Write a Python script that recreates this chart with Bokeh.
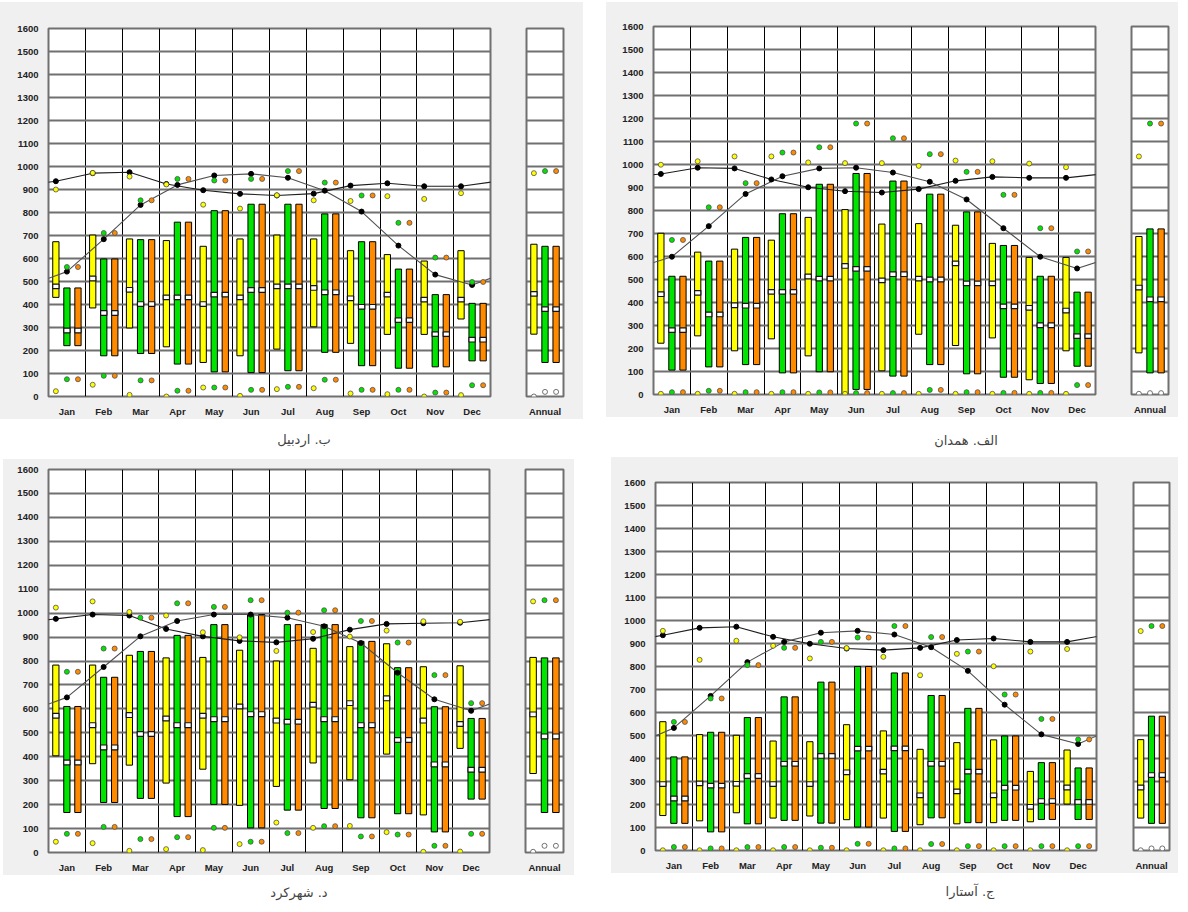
from bokeh.plotting import figure
from bokeh.models import Range1d, FixedTicker, Spacer, Div, ColumnDataSource
from bokeh.layouts import row, column
from bokeh.embed import file_html
from bokeh.resources import INLINE

MONTHS = ["Jan", "Feb", "Mar", "Apr", "May", "Jun", "Jul", "Aug", "Sep", "Oct", "Nov", "Dec"]
Y_TICKS = list(range(0, 1700, 100))

# ---------------- Ardabil ----------------
ARD_TITLE = "ب. اردبیل"
ARD_Y_LO = [431, 385, 298, 216, 148, 177, 206, 303, 231, 270, 270, 337]
ARD_Y_HI = [673, 702, 685, 678, 653, 685, 702, 685, 634, 617, 589, 634]
ARD_Y_MED = [479, 513, 464, 431, 402, 431, 479, 472, 427, 443, 421, 421]
ARD_Y_MIN = [23, 51, 7, 0, 39, 3, 32, 36, 13, 10, 0, 6]
ARD_Y_MAX = [900, 972, 956, 922, 834, 817, 875, 853, 850, 871, 859, 884]
ARD_G_LO = [221, 177, 187, 141, 107, 104, 112, 192, 134, 123, 129, 155]
ARD_G_HI = [472, 598, 682, 758, 808, 836, 836, 794, 673, 554, 443, 405]
ARD_G_MED = [287, 363, 402, 431, 443, 463, 479, 453, 390, 332, 271, 247]
ARD_G_MIN = [75, 90, 70, 25, 39, 29, 42, 73, 29, 29, 17, 49]
ARD_G_MAX = [563, 711, 853, 946, 939, 946, 980, 930, 874, 755, 604, 498]
ARD_O_LO = [221, 177, 187, 141, 107, 104, 112, 192, 134, 123, 129, 155]
ARD_O_HI = [472, 598, 682, 758, 808, 836, 836, 794, 673, 554, 443, 405]
ARD_O_MED = [287, 363, 402, 431, 443, 463, 479, 453, 390, 332, 271, 247]
ARD_O_MIN = [75, 90, 70, 25, 39, 29, 42, 73, 29, 29, 17, 49]
ARD_O_MAX = [563, 711, 853, 946, 939, 946, 980, 930, 874, 755, 604, 498]
ARD_LINE_A = [936, 971, 975, 924, 897, 881, 874, 882, 917, 927, 914, 914]
ARD_LINE_B = [543, 684, 833, 920, 961, 968, 951, 895, 804, 656, 530, 485]
# annual: low, high, median, min, max
ARD_ANN_Y = [271, 662, 446, 0, 971]
ARD_ANN_G = [148, 653, 380, 20, 980]
ARD_ANN_O = [148, 653, 380, 20, 980]

# ---------------- Hamedan ----------------
HAM_TITLE = "الف. همدان"
HAM_Y_LO = [223, 255, 190, 242, 168, 3, 103, 262, 213, 246, 64, 190]
HAM_Y_HI = [701, 619, 632, 671, 770, 804, 741, 743, 736, 657, 596, 596]
HAM_Y_MED = [436, 442, 388, 446, 513, 559, 496, 504, 570, 483, 377, 365]
HAM_Y_MIN = [3, 3, 3, 3, 3, 3, 3, 3, 3, 3, 3, 3]
HAM_Y_MAX = [999, 1014, 1035, 1035, 1009, 1006, 1006, 994, 1017, 1014, 1004, 988]
HAM_G_LO = [106, 120, 130, 94, 99, 22, 80, 130, 90, 75, 48, 123]
HAM_G_HI = [514, 580, 683, 786, 914, 961, 928, 871, 794, 648, 514, 445]
HAM_G_MED = [280, 348, 386, 446, 504, 546, 523, 500, 483, 383, 301, 254]
HAM_G_MIN = [10, 16, 10, 10, 9, 6, 6, 20, 10, 7, 7, 41]
HAM_G_MAX = [672, 814, 919, 1052, 1075, 1178, 1114, 1045, 968, 868, 723, 622]
HAM_O_LO = [106, 120, 130, 94, 99, 22, 80, 130, 90, 75, 48, 123]
HAM_O_HI = [514, 580, 683, 786, 914, 961, 928, 871, 794, 648, 514, 445]
HAM_O_MED = [280, 348, 386, 446, 504, 546, 523, 500, 483, 383, 301, 254]
HAM_O_MIN = [10, 16, 10, 10, 9, 6, 6, 20, 10, 7, 7, 41]
HAM_O_MAX = [672, 814, 919, 1052, 1075, 1178, 1114, 1045, 968, 868, 723, 622]
HAM_LINE_A = [959, 986, 983, 935, 901, 884, 878, 893, 929, 946, 942, 942]
HAM_LINE_B = [599, 732, 872, 949, 983, 986, 965, 925, 848, 723, 599, 548]
HAM_ANN_Y = [181, 687, 465, 3, 1035]
HAM_ANN_G = [94, 720, 414, 6, 1178]
HAM_ANN_O = [94, 720, 414, 6, 1178]

# ---------------- Shahrekord ----------------
SHK_TITLE = "د. شهرکرد"
SHK_Y_LO = [404, 371, 365, 290, 348, 197, 276, 374, 304, 411, 157, 435]
SHK_Y_HI = [783, 783, 824, 813, 815, 845, 800, 853, 860, 872, 776, 780]
SHK_Y_MED = [571, 532, 574, 560, 571, 610, 551, 617, 624, 644, 551, 537]
SHK_Y_MIN = [45, 39, 7, 14, 10, 35, 125, 103, 111, 85, 3, 4]
SHK_Y_MAX = [1023, 1049, 1005, 990, 920, 899, 842, 921, 902, 927, 966, 964]
SHK_G_LO = [167, 209, 226, 150, 201, 103, 177, 184, 145, 162, 86, 223]
SHK_G_HI = [610, 732, 840, 907, 952, 994, 952, 952, 882, 772, 609, 560]
SHK_G_MED = [376, 439, 495, 532, 557, 578, 546, 557, 532, 470, 368, 346]
SHK_G_MIN = [78, 107, 56, 64, 103, 45, 81, 110, 67, 75, 28, 78]
SHK_G_MAX = [755, 852, 981, 1041, 1026, 1054, 1002, 1012, 967, 877, 741, 624]
SHK_O_LO = [167, 209, 226, 150, 201, 103, 177, 184, 145, 162, 86, 223]
SHK_O_HI = [610, 732, 840, 907, 952, 994, 952, 952, 882, 772, 609, 560]
SHK_O_MED = [376, 439, 495, 532, 557, 578, 546, 557, 532, 470, 368, 346]
SHK_O_MIN = [78, 107, 56, 64, 103, 45, 81, 110, 67, 75, 28, 78]
SHK_O_MAX = [755, 852, 981, 1041, 1026, 1054, 1002, 1012, 967, 877, 741, 624]
SHK_LINE_A = [976, 994, 990, 934, 903, 884, 878, 893, 931, 955, 958, 960]
SHK_LINE_B = [648, 775, 903, 967, 994, 994, 981, 945, 875, 751, 640, 592]
SHK_ANN_Y = [330, 815, 577, 3, 1049]
SHK_ANN_G = [167, 813, 485, 28, 1054]
SHK_ANN_O = [167, 813, 485, 28, 1054]

# ---------------- Astara ----------------
AST_TITLE = "ج. آستارا"
AST_Y_LO = [152, 129, 164, 141, 150, 134, 141, 112, 116, 121, 125, 202]
AST_Y_HI = [560, 504, 501, 476, 473, 547, 520, 440, 469, 481, 344, 437]
AST_Y_MED = [289, 292, 290, 289, 289, 340, 343, 240, 257, 240, 190, 274]
AST_Y_MIN = [1, 1, 1, 1, 1, 1, 1, 1, 1, 1, 1, 1]
AST_Y_MAX = [955, 829, 912, 890, 835, 880, 842, 762, 855, 801, 865, 876]
AST_G_LO = [118, 81, 116, 131, 119, 102, 83, 142, 121, 131, 135, 135]
AST_G_HI = [407, 514, 578, 668, 732, 800, 772, 674, 618, 498, 382, 359]
AST_G_MED = [226, 282, 324, 377, 411, 443, 444, 377, 343, 273, 215, 211]
AST_G_MIN = [15, 9, 15, 15, 12, 29, 9, 28, 19, 19, 19, 19]
AST_G_MAX = [559, 661, 806, 881, 907, 926, 976, 928, 865, 678, 572, 483]
AST_O_LO = [118, 81, 116, 131, 119, 102, 83, 142, 121, 131, 135, 135]
AST_O_HI = [407, 514, 578, 668, 732, 800, 772, 674, 618, 498, 382, 359]
AST_O_MED = [226, 282, 324, 377, 411, 443, 444, 377, 343, 273, 215, 211]
AST_O_MIN = [15, 9, 15, 15, 12, 29, 9, 28, 19, 19, 19, 19]
AST_O_MAX = [559, 661, 806, 881, 907, 926, 976, 928, 865, 678, 572, 483]
AST_LINE_A = [936, 968, 973, 929, 899, 878, 871, 881, 915, 922, 907, 907]
AST_LINE_B = [533, 672, 819, 907, 947, 955, 939, 884, 781, 634, 505, 463]
AST_ANN_Y = [141, 482, 274, 1, 954]
AST_ANN_G = [118, 584, 328, 9, 976]
AST_ANN_O = [118, 584, 328, 9, 976]

# ---------------- styling ----------------
BG = "#F0F0F0"
YELLOW = "#FFFF00"
GREEN = "#00E400"
ORANGE = "#FF8A00"
HGRID = "#707070"
BAR_W = 0.17
OFFSETS = [-0.3, 0.0, 0.3]
FONT = "Liberation Sans"


def style_axes(p, with_y):
    p.title.visible = False
    p.outline_line_color = HGRID
    p.outline_line_width = 2
    ax = p.xaxis[0]
    ax.axis_line_color = None
    ax.major_tick_line_color = None
    ax.minor_tick_line_color = None
    ax.major_label_standoff = 3
    ax.major_label_text_font = FONT
    ax.major_label_text_font_style = "bold"
    ax.major_label_text_font_size = "9.5px"
    ax.major_label_text_color = "#222222"
    ay = p.yaxis[0]
    if with_y:
        ay.ticker = FixedTicker(ticks=Y_TICKS)
        ay.axis_line_color = None
        ay.major_tick_line_color = None
        ay.minor_tick_line_color = None
        ay.major_label_standoff = 4
        ay.major_label_text_font = FONT
        ay.major_label_text_font_style = "bold"
        ay.major_label_text_font_size = "9.5px"
        ay.major_label_text_color = "#222222"
    else:
        ay.visible = False
    p.ygrid.ticker = FixedTicker(ticks=Y_TICKS)
    p.ygrid.grid_line_color = HGRID
    p.ygrid.grid_line_width = 2


def draw_series(p, centers, series):
    # series: list of (lo, hi, med, mn, mx, color)
    srcs = []
    for k, (lo, hi, med, mn, mx, color) in enumerate(series):
        xs = [c + OFFSETS[k] for c in centers]
        src = ColumnDataSource(dict(x=xs, lo=lo, hi=hi, med=med, mn=mn, mx=mx))
        p.vbar(x="x", bottom="lo", top="hi", width=BAR_W, fill_color=color,
               line_color="black", line_width=1, source=src)
        p.rect(x="x", y="med", width=BAR_W, height=20, fill_color="white",
               line_color="#111111", line_width=1.2, source=src)
        srcs.append((src, color))
    return srcs


def draw_dots(p, srcs, min_white=False):
    for src, color in srcs:
        p.scatter(x="x", y="mx", size=5, fill_color=color, line_color="#505050",
                  line_width=0.8, source=src)
        p.scatter(x="x", y="mn", size=5,
                  fill_color="white" if min_white else color,
                  line_color="#505050", line_width=0.8, source=src)


def new_fig(xr, bl, br, bt, bb, fw, fh):
    return figure(x_range=xr, y_range=Range1d(0, 1600),
                  frame_width=fw, frame_height=fh,
                  min_border_left=bl, min_border_right=br,
                  min_border_top=bt, min_border_bottom=bb,
                  output_backend="svg", toolbar_location=None,
                  background_fill_color="white", border_fill_color=BG)


def make_main(st, bl, br, bt, bb, fw, fh):
    p = new_fig(Range1d(-0.5, 11.5), bl, br, bt, bb, fw, fh)
    style_axes(p, True)
    p.xaxis[0].ticker = FixedTicker(ticks=list(range(len(MONTHS))))
    p.xaxis[0].major_label_overrides = {i: m for i, m in enumerate(MONTHS)}
    p.xgrid.ticker = FixedTicker(ticks=[i - 0.5 for i in range(len(MONTHS) + 1)])
    p.xgrid.grid_line_color = "black"
    p.xgrid.grid_line_width = 1
    centers = list(range(len(MONTHS)))
    srcs = draw_series(p, centers, [
        (st["y_lo"], st["y_hi"], st["y_med"], st["y_min"], st["y_max"], YELLOW),
        (st["g_lo"], st["g_hi"], st["g_med"], st["g_min"], st["g_max"], GREEN),
        (st["o_lo"], st["o_hi"], st["o_med"], st["o_min"], st["o_max"], ORANGE),
    ])
    n = len(MONTHS)
    la, lb = st["line_a"], st["line_b"]
    xa = [c + OFFSETS[0] for c in centers]
    xb = [c + OFFSETS[1] for c in centers]
    # wrap around (cyclic year) so the curves reach the frame edges
    p.line([xa[-1] - n] + xa + [xa[0] + n], [la[-1]] + la + [la[0]],
           line_color="#1e1e1e", line_width=1.1)
    p.line([xb[-1] - n] + xb + [xb[0] + n], [lb[-1]] + lb + [lb[0]],
           line_color="#505050", line_width=1.1)
    p.scatter(xa, la, size=5, fill_color="black", line_color="black")
    p.scatter(xb, lb, size=5, fill_color="black", line_color="black")
    draw_dots(p, srcs)
    return p


def make_annual(st, bl, br, bt, bb, fw, fh):
    p = new_fig(Range1d(-0.5, 0.5), bl, br, bt, bb, fw, fh)
    style_axes(p, False)
    p.xaxis[0].ticker = FixedTicker(ticks=[0])
    p.xaxis[0].major_label_overrides = {0: "Annual"}
    p.xgrid.visible = False
    y, g, o = st["ann_y"], st["ann_g"], st["ann_o"]
    srcs = draw_series(p, [0], [
        ([y[0]], [y[1]], [y[2]], [y[3]], [y[4]], YELLOW),
        ([g[0]], [g[1]], [g[2]], [g[3]], [g[4]], GREEN),
        ([o[0]], [o[1]], [o[2]], [o[3]], [o[4]], ORANGE),
    ])
    draw_dots(p, srcs, min_white=True)
    return p


def station(prefix):
    g = globals()
    keys = ["Y_LO", "Y_HI", "Y_MED", "Y_MIN", "Y_MAX", "G_LO", "G_HI", "G_MED", "G_MIN",
            "G_MAX", "O_LO", "O_HI", "O_MED", "O_MIN", "O_MAX", "LINE_A", "LINE_B",
            "ANN_Y", "ANN_G", "ANN_O", "TITLE"]
    return {k.lower(): g[prefix + "_" + k] for k in keys}


def title_row(text, spacer_w, height, pad, lh=16):
    html = ('<div dir="rtl" style="width:160px;text-align:center;'
            "font-family:'DejaVu Sans';font-size:13px;"
            f'line-height:{lh}px;color:#444444;padding-top:{pad}px;">{text}</div>')
    d = Div(text=html, width=160, height=height, margin=(0, 0, 0, 0))
    return row(Spacer(width=spacer_w, height=height), d)


def panel_row(children):
    return row(*children, styles={"background-color": BG})


ard, ham, shk, ast = station("ARD"), station("HAM"), station("SHK"), station("AST")

# top-left: Ardabil
tl_main = make_main(ard, 48, 18, 26, 21, 442, 368)
tl_ann = make_annual(ard, 18, 20, 26, 21, 37, 368)
# bottom-left: Shahrekord
bl_main = make_main(shk, 45, 18, 10, 20, 441, 383)
bl_ann = make_annual(shk, 18, 11, 10, 20, 38, 383)
# top-right: Hamedan
tr_main = make_main(ham, 47, 18, 24, 21, 442, 368)
tr_ann = make_annual(ham, 18, 10, 24, 21, 37, 368)
# bottom-right: Astara
br_main = make_main(ast, 44, 18, 25, 22, 441, 368)
br_ann = make_annual(ast, 19, 9, 25, 22, 36, 368)

left_col = column(
    Spacer(width=583, height=2),
    panel_row([tl_main, tl_ann]),
    title_row(ard["title"], 224, 40, 13),
    row(Spacer(width=3, height=413), panel_row([bl_main, bl_ann])),
    title_row(shk["title"], 219, 26, 11, 14),
)
right_col = column(
    Spacer(width=595, height=2),
    row(Spacer(width=23, height=413), panel_row([tr_main, tr_ann])),
    title_row(ham["title"], 303, 40, 16),
    row(Spacer(width=28, height=415), panel_row([br_main, br_ann])),
    title_row(ast["title"], 307, 26, 12, 14),
)
layout = row(left_col, right_col)

open("out.html", "w").write(file_html(layout, INLINE))
